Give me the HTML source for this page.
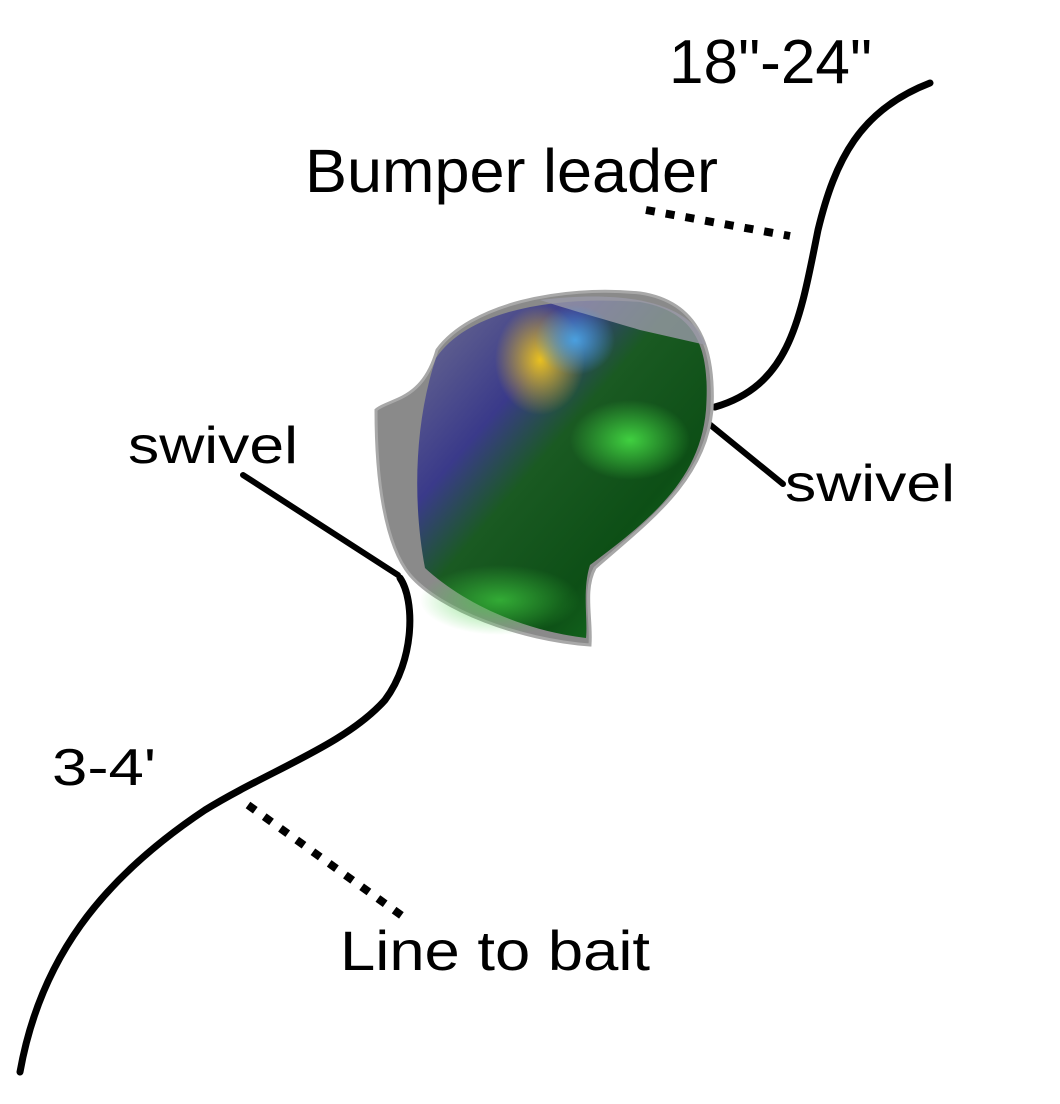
<!DOCTYPE html>
<html><head><style>
html,body{margin:0;padding:0;background:#fff;}
svg{display:block;}
text{font-family:"Liberation Sans",Arial,sans-serif;fill:#000;}
</style></head><body>
<svg width="1060" height="1104" viewBox="0 0 1060 1104" xmlns="http://www.w3.org/2000/svg">
<defs>
<linearGradient id="g1" x1="0" y1="0" x2="1" y2="1">
<stop offset="0" stop-color="#707090"/>
<stop offset="0.3" stop-color="#3a3a8a"/>
<stop offset="0.45" stop-color="#1a5a22"/>
<stop offset="0.7" stop-color="#0d4f16"/>
<stop offset="1" stop-color="#1e8a28"/>
</linearGradient>
<radialGradient id="y1" cx="0.5" cy="0.5" r="0.5">
<stop offset="0" stop-color="#e8c020"/>
<stop offset="1" stop-color="#e8c020" stop-opacity="0"/>
</radialGradient>
<radialGradient id="b1" cx="0.5" cy="0.5" r="0.5">
<stop offset="0" stop-color="#4aa0e0"/>
<stop offset="1" stop-color="#4aa0e0" stop-opacity="0"/>
</radialGradient>
<radialGradient id="gr1" cx="0.5" cy="0.5" r="0.5">
<stop offset="0" stop-color="#40d040"/>
<stop offset="1" stop-color="#40d040" stop-opacity="0"/>
</radialGradient>
</defs>

<g fill="none" stroke="#000" stroke-linecap="round">
<path d="M930,83 C860,110 835,160 818,230 C800,320 790,385 715,407" stroke-width="7"/>
<path d="M708,423 L783,484" stroke-width="6"/>
<path d="M243,475 L398,575" stroke-width="6"/>
<path d="M400,578 C415,600 415,660 385,700 C345,745 270,770 205,810 C100,880 40,960 20,1072" stroke-width="7"/>
<path d="M646,210 L790,236" stroke-width="8" stroke-dasharray="9,11" stroke-linecap="butt"/>
<path d="M248,805 L405,918" stroke-width="8" stroke-dasharray="9,11" stroke-linecap="butt"/>
</g>

<!-- flasher -->
<path d="M376,410 C390,398 422,402 437,350 C470,305 560,285 640,293 C700,302 715,350 712,410 C705,480 650,520 595,568 C583,590 592,620 590,645 C520,640 440,610 410,575 C385,545 376,480 376,410 Z" fill="#8a8a8a" stroke="#a8a8a8" stroke-width="3"/>
<path d="M436,358 C470,308 560,296 640,302 C698,312 710,350 706,410 C700,480 650,520 590,565 C582,590 588,620 586,638 C520,630 462,602 425,568 C412,500 415,420 436,358 Z" fill="url(#g1)"/>
<path d="M540,300 C620,290 690,300 706,345 L640,330 C600,318 570,310 540,300 Z" fill="#9a9aa8" opacity="0.8"/>
<ellipse cx="540" cy="360" rx="45" ry="55" fill="url(#y1)"/>
<ellipse cx="575" cy="340" rx="40" ry="35" fill="url(#b1)"/>
<ellipse cx="630" cy="440" rx="60" ry="40" fill="url(#gr1)"/>
<ellipse cx="500" cy="600" rx="80" ry="35" fill="url(#gr1)" opacity="0.7"/>

<text x="669" y="83" font-size="62" textLength="203" lengthAdjust="spacingAndGlyphs">18"-24"</text>
<text x="305" y="192" font-size="61" textLength="413" lengthAdjust="spacingAndGlyphs">Bumper leader</text>
<text x="128" y="463" font-size="52" textLength="170" lengthAdjust="spacingAndGlyphs">swivel</text>
<text x="785" y="501" font-size="52" textLength="170" lengthAdjust="spacingAndGlyphs">swivel</text>
<text x="52" y="785" font-size="52" textLength="104" lengthAdjust="spacingAndGlyphs">3-4'</text>
<text x="340" y="970" font-size="56" textLength="310" lengthAdjust="spacingAndGlyphs">Line to bait</text>
</svg>
</body></html>
